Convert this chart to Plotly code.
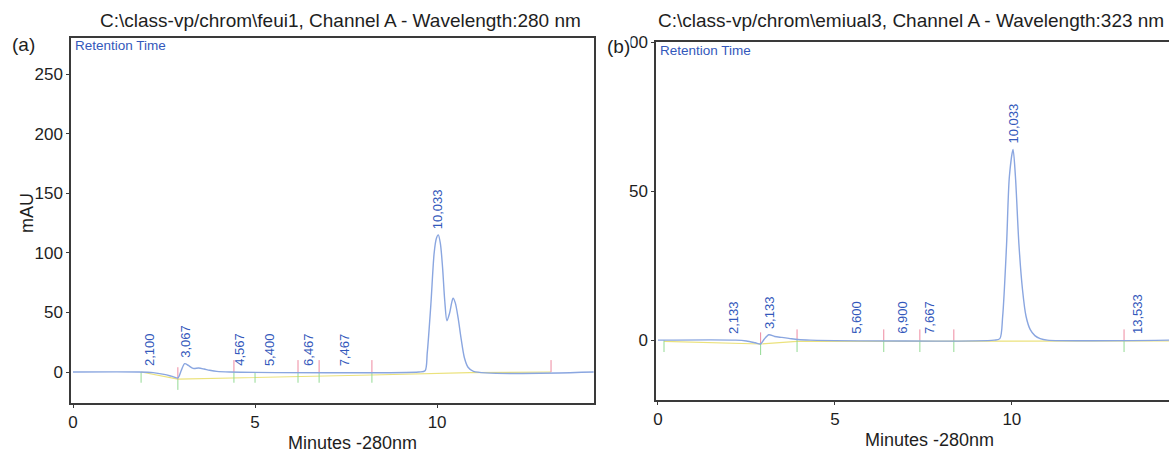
import plotly.graph_objects as go

W, H = 1169, 453
FONT = "Liberation Sans, Arial, sans-serif"
INK = "#1e1e1e"
AXIS = "#3a3a3a"
TRACE_BLUE = "#8aa6e0"
LABEL_BLUE = "#3358bb"
BASE_YELLOW = "#ebe27c"
EVT_GREEN = "#93da93"
EVT_RED = "#ee8aa0"

# ---- Panel (a): feui1, 280 nm ----
a_time = [0, 1.8, 2.2, 2.5, 2.7, 2.88, 2.97, 3.067, 3.17, 3.3, 3.45, 3.6, 3.75,
          3.95, 4.3, 9.5, 9.67, 9.73, 9.83, 9.92, 9.98, 10.033, 10.09, 10.15,
          10.21, 10.27, 10.34, 10.40, 10.44, 10.50, 10.58, 10.66, 10.75, 10.85,
          11.0, 14.3]
a_mau = [0, 0, -0.5, -2, -3.5, -5, 1, 7, 5.5, 3, 3.3, 2.5, 1.5,
         0.5, 0, 0, 1, 16, 57, 100, 112, 115, 108, 88,
         60, 43, 49, 58, 62, 58, 45, 28, 12, 4,
         0.5, 0]
a_base_time = [1.87, 2.88, 8.21, 10.9, 13.13]
a_base_mau = [0, -6, -2.5, -0.5, 0]
a_peak_time = [2.100, 3.067, 4.567, 5.400, 6.467, 7.467, 10.033]
a_peak_mau = [0, 7, 0, 0, 0, 0, 115]
a_green_time = [1.87, 2.88, 4.42, 5.0, 6.18, 6.76, 8.21]
a_green_top = [0, -6, 0, 0, 0, 0, 0]
a_red_time = [2.88, 4.42, 6.18, 6.76, 8.21, 13.13]
a_red_bottom = [-6, 0, 0, 0, 0, 0]

# ---- Panel (b): emiual3, 323 nm ----
b_time = [0, 2.2, 2.5, 2.75, 2.9, 3.0, 3.133, 3.3, 3.5, 3.7, 3.95, 4.3, 9.5,
          9.66, 9.74, 9.85, 9.93, 10.033, 10.1, 10.2, 10.3, 10.4, 10.52, 10.65,
          10.8, 11.0, 14.45]
b_mau = [0, 0, -0.3, -0.9, -1.3, 0.3, 1.8, 1.2, 0.9, 0.6, 0.2, 0, 0,
         0.5, 8, 32, 55, 64, 55, 32, 17, 8, 3.5, 1.5,
         0.5, 0, 0]
b_base_time = [0.17, 2.9, 3.93, 13.17, 14.45]
b_base_mau = [-0.4, -1.3, -0.4, -0.3, -0.3]
b_peak_time = [2.133, 3.133, 5.600, 6.900, 7.667, 10.033, 13.533]
b_peak_mau = [0, 1.8, 0, 0, 0, 64, 0]
b_green_time = [0.17, 2.9, 3.93, 6.38, 7.4, 8.36, 13.17]
b_green_top = [0, -1, 0, 0, 0, 0, 0]
b_red_time = [2.9, 3.93, 6.38, 7.4, 8.36, 13.17]
b_red_bottom = [-1, 0, 0, 0, 0, 0]


def px_x(p):
    return p / W


def px_y(p):
    return 1 - p / H


def ticks(times, anchor, length, up):
    xs, ys = [], []
    for t, v in zip(times, anchor):
        xs += [t, t, None]
        ys += [v, v + length if up else v - length, None]
    return xs, ys


fig = go.Figure()


def add_panel(xa, ya, t, y, bt, by, gt, gtop, rt, rbot, glen, rlen, pt, pv):
    fig.add_trace(go.Scatter(x=bt, y=by, mode="lines", xaxis=xa, yaxis=ya,
                             line=dict(color=BASE_YELLOW, width=1.2),
                             hoverinfo="skip", showlegend=False))
    gx, gy = ticks(gt, gtop, glen, False)
    fig.add_trace(go.Scatter(x=gx, y=gy, mode="lines", xaxis=xa, yaxis=ya,
                             line=dict(color=EVT_GREEN, width=1),
                             hoverinfo="skip", showlegend=False))
    rx, ry = ticks(rt, rbot, rlen, True)
    fig.add_trace(go.Scatter(x=rx, y=ry, mode="lines", xaxis=xa, yaxis=ya,
                             line=dict(color=EVT_RED, width=1),
                             hoverinfo="skip", showlegend=False))
    fig.add_trace(go.Scatter(x=t, y=y, mode="lines", xaxis=xa, yaxis=ya,
                             line=dict(color=TRACE_BLUE, width=1.4,
                                       shape="spline", smoothing=0.8),
                             showlegend=False))
    for tt, vv in zip(pt, pv):
        fig.add_annotation(x=tt, y=vv, xref=xa, yref=ya,
                           text=f"{tt:.3f}".replace(".", ","),
                           textangle=-90, showarrow=False,
                           xanchor="center", yanchor="bottom", yshift=4,
                           font=dict(family=FONT, size=13, color=LABEL_BLUE))


add_panel("x", "y", a_time, a_mau, a_base_time, a_base_mau,
          a_green_time, a_green_top, a_red_time, a_red_bottom, 9, 10,
          a_peak_time, a_peak_mau)
add_panel("x2", "y2", b_time, b_mau, b_base_time, b_base_mau,
          b_green_time, b_green_top, b_red_time, b_red_bottom, 4, 3.6,
          b_peak_time, b_peak_mau)

axis_common = dict(showgrid=False, zeroline=False, showline=True,
                   automargin=False,
                   linecolor=AXIS, linewidth=1.5, ticks="outside",
                   ticklen=3, tickcolor=AXIS, tickwidth=1,
                   tickfont=dict(family=FONT, size=17, color=INK))

fig.update_layout(
    width=W, height=H,
    margin=dict(l=0, r=0, t=0, b=0, autoexpand=False),
    paper_bgcolor="white", plot_bgcolor="white",
    font=dict(family=FONT, color=INK),
    xaxis=dict(domain=[px_x(71), px_x(594)], range=[-0.055, 14.31],
               tickvals=[0, 5, 10], anchor="y", mirror=True, **axis_common),
    yaxis=dict(domain=[px_y(403), px_y(38)], range=[-26, 280.2],
               tickvals=[0, 50, 100, 150, 200, 250], anchor="x",
               mirror=True, **axis_common),
    xaxis2=dict(domain=[px_x(656), 1.0], range=[-0.056, 14.44],
                tickvals=[0, 5, 10], anchor="y2", mirror=True, **axis_common),
    yaxis2=dict(domain=[px_y(400), px_y(42)], range=[-20.1, 100.05],
                tickvals=[0, 50, 100], anchor="x2", mirror=False,
                **axis_common),
)

texts = [
    ("C:\\class-vp/chrom\\feui1, Channel A - Wavelength:280 nm", 340, 20, 19, INK, "center", 0),
    ("C:\\class-vp/chrom\\emiual3, Channel A - Wavelength:323 nm", 911, 20, 19, INK, "center", 0),
    ("Retention Time", 73, 46, 13.5, LABEL_BLUE, "left", 0),
    ("Retention Time", 658, 50, 13.5, LABEL_BLUE, "left", 0),
    ("Minutes -280nm", 352, 443, 18, INK, "center", 0),
    ("Minutes -280nm", 929, 440, 18, INK, "center", 0),
    ("mAU", 27, 213, 18, INK, "center", -90),
    ("(a)", 23, 44, 19, INK, "center", 0),
]
for txt, x, y, size, col, anchor, ang in texts:
    fig.add_annotation(x=px_x(x), y=px_y(y), xref="paper", yref="paper",
                       text=txt, showarrow=False, xanchor=anchor,
                       yanchor="middle", textangle=ang,
                       font=dict(family=FONT, size=size, color=col))

# panel tag (b) sits over the leading digit of the top tick label
fig.add_annotation(x=px_x(631), y=px_y(47), xref="paper", yref="paper",
                   text="(b)", showarrow=False, xanchor="right",
                   yanchor="middle", bgcolor="white", borderpad=0,
                   font=dict(family=FONT, size=19, color=INK))

fig.write_html("out.html")
